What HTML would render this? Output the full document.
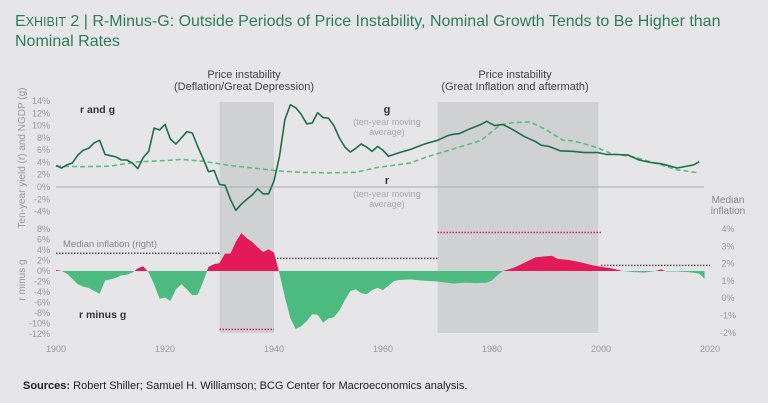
<!DOCTYPE html>
<html><head><meta charset="utf-8"><style>
body{margin:0;background:#e6e6e8;}
svg{display:block;font-family:"Liberation Sans",sans-serif;}
</style></head><body>
<svg id="c" width="768" height="403" viewBox="0 0 768 403">
<rect width="768" height="403" fill="#e6e6e8"/>
<text x="15" y="26" font-size="16" fill="#2e7d5a"><tspan font-size="16">E</tspan><tspan font-size="12.5">XHIBIT</tspan> 2 | R-Minus-G: Outside Periods of Price Instability, Nominal Growth Tends to Be Higher than</text>
<text x="15" y="46" font-size="16" fill="#2e7d5a">Nominal Rates</text>
<g id="plot"></g>
<text x="23" y="389" font-size="11" fill="#222"><tspan font-weight="bold">Sources:</tspan> Robert Shiller; Samuel H. Williamson; BCG Center for Macroeconomics analysis.</text>
</svg>
<script>
const years=[];for(let y=1900;y<=2019;y++)years.push(y);
const gYears=[1900,1901,1902,1903,1904,1905,1906,1907,1908,1909,1910,1911,1912,1913,1914,1915,1916,1917,1918,1919,1920,1921,1922,1923,1924,1925,1926,1927,1928,1929,1930,1931,1932,1933,1934,1935,1936,1937,1938,1939,1940,1941,1942,1943,1944,1945,1946,1947,1948,1949,1950,1951,1952,1953,1954,1955,1956,1957,1958,1959,1960,1961,1963,1965,1967,1968,1970,1972,1973,1974,1976,1978,1979,1980.5,1982,1983.5,1986,1988,1989,1990.5,1992.5,1995,1997,1999.5,2001,2003,2005,2007,2009,2011,2014,2017,2018];
const gValues=[3.5,3.1,3.6,3.9,5.2,6.0,6.3,7.2,7.6,5.3,5.1,4.9,4.4,4.4,3.9,3.0,4.8,5.8,9.6,9.3,10.2,7.8,7.0,8.0,9.0,8.8,6.6,4.6,2.5,2.7,0.4,0.3,-2.0,-3.8,-2.8,-2.0,-1.3,-0.3,-1.1,-1.1,1.0,5.0,11.0,13.4,12.9,11.8,10.3,10.4,12.1,11.3,11.2,10.0,8.0,6.5,5.7,6.3,7.0,6.5,5.8,6.6,6.0,5.0,5.6,6.1,6.8,7.1,7.6,8.4,8.6,8.7,9.5,10.2,10.7,10.0,10.2,9.5,8.2,7.4,6.8,6.6,5.9,5.8,5.6,5.6,5.3,5.3,5.2,4.4,4.0,3.8,3.1,3.6,4.1];
const rYears=[1900,1905,1910,1915,1920,1923,1927,1932,1937,1941,1945,1950,1955,1959,1965,1968,1973.7,1978,1981.5,1984,1987,1990,1993,1995,1999,2002,2006,2008,2011,2014,2018];
const rValues=[3.4,3.3,3.4,4.1,4.3,4.5,4.2,3.5,3.0,2.6,2.4,2.3,2.4,3.2,3.9,4.9,6.4,7.6,10.1,10.5,10.6,9.3,7.6,7.5,6.5,5.4,4.9,4.4,3.6,2.8,2.3];
const dYears=[1900,1901,1902,1903,1904,1905,1906,1907,1908,1909,1910,1911,1912,1913,1914,1915,1916,1917,1918,1919,1920,1921,1922,1923,1924,1925,1926,1927,1928,1929,1930,1931,1932,1933,1934,1935,1936,1937,1938,1939,1940,1941,1942,1943,1944,1945,1946,1947,1948,1949,1950,1951,1952,1953,1954,1955,1956,1957,1958,1959,1960,1961,1962,1963,1965,1967,1970,1973,1975,1977,1979,1980,1981,1982,1984,1986,1988,1990,1991,1992,1994,1996,1998,2000,2002,2004,2006,2008,2010,2011,2012,2014,2016,2018,2019];
const dValues=[0.2,0,-0.5,-1.5,-2.5,-3.0,-3.2,-3.8,-4.3,-1.8,-1.6,-1.3,-0.8,-0.7,-0.3,0.5,0.9,-0.3,-2.5,-5.3,-5.0,-5.7,-3.5,-2.5,-3.5,-4.6,-4.5,-2,0.8,1.3,1.5,3.3,3.3,5.5,7.2,6.2,5.5,4.5,3.6,4.1,3.5,-0.5,-5,-9,-11,-10.5,-9.5,-8.2,-8.3,-9.8,-9.0,-8.8,-7.5,-5.5,-3.8,-3.5,-4.2,-4.4,-3.6,-3.2,-3.6,-2.8,-1.9,-1.7,-1.6,-1.8,-2,-2.4,-2.2,-2.3,-2.2,-1.8,-0.8,0,0.6,1.6,2.6,2.8,2.9,2.3,2.1,1.7,1.2,0.8,0.5,0,-0.2,-0.3,0,0.3,-0.1,-0.1,-0.2,-0.5,-1.5];
const medStart=[1900,1930,1940,1970,2000];
const medEnd=[1930,1940,1970,2000,2020];
const medValues=[2.6,-1.8,2.3,3.8,1.9];
const medRed=[false,true,false,true,false];
const xTicks=[1900,1920,1940,1960,1980,2000,2020];
const topTicks=[14,12,10,8,6,4,2,0,-2,-4];
const botTicks=[8,6,4,2,0,-2,-4,-6,-8,-10,-12];
const rightTicks=[4,3,2,1,0,-1,-2];
const shadeStart=[1930,1970],shadeEnd=[1940,1999.5];

const X=y=>56+(y-1900)*5.45;
const YT=v=>187-v*6.14;
const YB=v=>271-v*5.27;
const YR=v=>229+(4-v)*17.3;
const NS='http://www.w3.org/2000/svg';
const P=document.getElementById('plot');
function mk(t,a,parent){const e=document.createElementNS(NS,t);for(const k in a)e.setAttribute(k,a[k]);(parent||P).appendChild(e);return e;}
function txt(x,y,s,a){const e=mk('text',Object.assign({x:x,y:y},a));e.textContent=s;return e;}

for(let i=0;i<shadeStart.length;i++){
 const e=mk('rect',{x:X(shadeStart[i]),y:102,width:X(shadeEnd[i])-X(shadeStart[i]),height:231,fill:'#d0d1d3'});
 
 
}
let e;
e=txt(244,78,'Price instability',{'font-size':11,fill:'#444','text-anchor':'middle'});

e=txt(244,90,'(Deflation/Great Depression)',{'font-size':11,fill:'#444','text-anchor':'middle'});

e=txt(515,78,'Price instability',{'font-size':11,fill:'#444','text-anchor':'middle'});

e=txt(515,90,'(Great Inflation and aftermath)',{'font-size':11,fill:'#444','text-anchor':'middle'});


e=mk('line',{x1:56,x2:704,y1:YT(0),y2:YT(0),stroke:'#aaa','stroke-width':1});


topTicks.forEach(v=>{const t=txt(50,YT(v)+3,v+'%',{'font-size':9,fill:'#999','text-anchor':'end'});
 });
botTicks.forEach(v=>{const t=txt(50,YB(v)+3,v+'%',{'font-size':9,fill:'#999','text-anchor':'end'});
 });
rightTicks.forEach(v=>{const t=txt(728,YR(v)+3,v+'%',{'font-size':9,fill:'#999','text-anchor':'middle'});
 });
xTicks.forEach(v=>{const t=txt(X(v),352,v,{'font-size':9,fill:'#999','text-anchor':'middle'});
 });

e=txt(0,0,'Ten-year yield (r) and NGDP (g)',{'font-size':10,fill:'#999','text-anchor':'middle',transform:'translate(25,158) rotate(-90)'});

e=txt(0,0,'r minus g',{'font-size':10,fill:'#999','text-anchor':'middle',transform:'translate(25,280) rotate(-90)'});

e=txt(728,203,'Median',{'font-size':10,fill:'#888','text-anchor':'middle'});

e=txt(728,214,'inflation',{'font-size':10,fill:'#888','text-anchor':'middle'});


// area r-g
const defs=mk('defs',{});
const c1=mk('clipPath',{id:'pos'},defs);mk('rect',{x:0,y:0,width:768,height:YB(0)},c1);
const c2=mk('clipPath',{id:'neg'},defs);mk('rect',{x:0,y:YB(0),width:768,height:200},c2);
let d='M'+X(dYears[0])+','+YB(0);
dYears.forEach((y,i)=>{d+=' L'+X(y).toFixed(1)+','+YB(dValues[i]).toFixed(1);});
d+=' L'+X(dYears[dYears.length-1])+','+YB(0)+' Z';
e=mk('path',{d:d,fill:'#e3195a','clip-path':'url(#pos)'});

e=mk('path',{d:d,fill:'#4dbb7f','clip-path':'url(#neg)'});


medStart.forEach((s,i)=>{const l=mk('line',{x1:X(s),x2:X(medEnd[i]),y1:YR(medValues[i]),y2:YR(medValues[i]),stroke:medRed[i]?'#e3195a':'#555','stroke-width':1.5,'stroke-dasharray':'1.5 1.5'});
 });

function line(xs,vs,a){return mk('path',Object.assign({d:xs.map((x,i)=>(i?'L':'M')+X(x).toFixed(1)+','+YT(vs[i]).toFixed(1)).join(' '),fill:'none'},a));}
e=line(rYears,rValues,{stroke:'#5bbd7e','stroke-width':1.6,'stroke-dasharray':'5 3'});

e=line(gYears,gValues,{stroke:'#1f6e4a','stroke-width':1.6,'stroke-linejoin':'round'});


e=txt(80,113,'r and g',{'font-size':10.5,'font-weight':'bold',fill:'#333'});

e=txt(79,318,'r minus g',{'font-size':10.5,'font-weight':'bold',fill:'#333'});

e=txt(387,113,'g',{'font-size':11,'font-weight':'bold',fill:'#333','text-anchor':'middle'});

e=txt(387,125,'(ten-year moving',{'font-size':9,fill:'#aaa','text-anchor':'middle'});

e=txt(387,135,'average)',{'font-size':9,fill:'#aaa','text-anchor':'middle'});

e=txt(387,184,'r',{'font-size':11,'font-weight':'bold',fill:'#333','text-anchor':'middle'});

e=txt(387,197,'(ten-year moving',{'font-size':9,fill:'#aaa','text-anchor':'middle'});

e=txt(387,207,'average)',{'font-size':9,fill:'#aaa','text-anchor':'middle'});

e=txt(63,247,'Median inflation (right)',{'font-size':9.5,fill:'#888'});

</script>
</body></html>
